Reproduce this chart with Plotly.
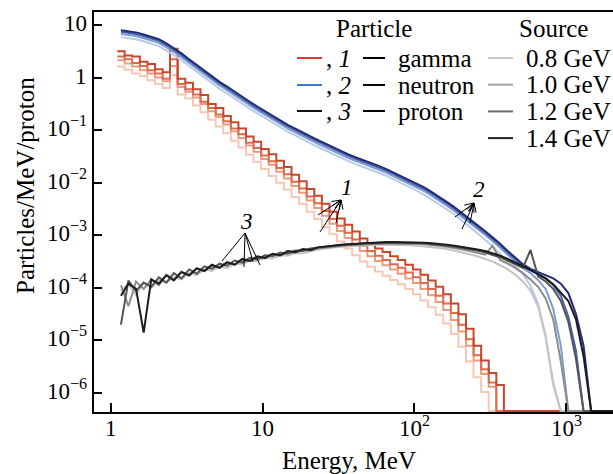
import math
import plotly.graph_objects as go

# Histogram bin edges, MeV (logarithmic binning, 20 bins per decade)
bin_edges = [1.10, 1.23, 1.38, 1.55, 1.74, 1.95, 2.19, 2.45, 2.75, 3.09,
             3.47, 3.89, 4.37, 4.90, 5.50, 6.17, 6.92, 7.76, 8.71, 9.77,
             10.96, 12.30, 13.80, 15.49, 17.38, 19.50, 21.88, 24.55, 27.54, 30.90,
             34.67, 38.90, 43.65, 48.98, 54.95, 61.66, 69.18, 77.62, 87.10, 97.72,
             109.6, 123.0, 138.0, 154.9, 173.8, 195.0, 218.8, 245.5, 275.4, 309.0,
             346.7, 389.0, 436.5, 489.8, 549.5, 616.6, 691.8, 776.2, 871.0, 977.2,
             1096, 1230, 1380, 1549, 1738, 1950, 2188]

sources = ["0.8 GeV", "1.0 GeV", "1.2 GeV", "1.4 GeV"]

# log10(particles/MeV/proton) per bin; None = empty bin
gamma_0p8 = [0.21, 0.15, 0.08, 0.03, -0.05, -0.12, -0.20, 0.05, -0.32, -0.40,
             -0.53, -0.66, -0.80, -0.93, -1.06, -1.20, -1.33, -1.47, -1.60, -1.74,
             -1.87, -2.00, -2.13, -2.27, -2.40, -2.55, -2.69, -2.84, -2.98, -3.12,
             -3.25, -3.38, -3.50, -3.60, -3.69, -3.77, -3.85, -3.93, -4.02, -4.12,
             -4.24, -4.37, -4.51, -4.68, -4.88, -5.12, -5.40, -5.70, -5.98, None,
             None, None, None, None, None, None, None, None, None, None,
             None, None, None, None, None, None]
gamma_1p0 = [0.33, 0.27, 0.21, 0.14, 0.08, 0.00, -0.07, 0.22, -0.18, -0.27,
             -0.38, -0.50, -0.64, -0.75, -0.89, -1.02, -1.15, -1.29, -1.41, -1.55,
             -1.66, -1.79, -1.92, -2.06, -2.19, -2.34, -2.48, -2.63, -2.78, -2.92,
             -3.05, -3.18, -3.30, -3.40, -3.49, -3.57, -3.65, -3.73, -3.82, -3.91,
             -4.02, -4.14, -4.27, -4.42, -4.61, -4.83, -5.10, -5.38, -5.64, -5.88,
             None, None, None, None, None, None, None, None, None, None,
             None, None, None, None, None, None]
gamma_1p2 = [0.40, 0.35, 0.28, 0.22, 0.14, 0.08, -0.02, 0.35, -0.12, -0.22,
             -0.32, -0.46, -0.58, -0.70, -0.83, -0.97, -1.08, -1.24, -1.34, -1.48,
             -1.59, -1.72, -1.84, -1.98, -2.11, -2.26, -2.39, -2.54, -2.69, -2.82,
             -2.95, -3.08, -3.20, -3.30, -3.39, -3.47, -3.55, -3.62, -3.71, -3.80,
             -3.91, -4.02, -4.15, -4.30, -4.48, -4.70, -4.98, -5.28, -5.55, -5.80,
             None, None, None, None, None, None, None, None, None, None,
             None, None, None, None, None, None]
gamma_1p4 = [0.50, 0.42, 0.40, 0.30, 0.26, 0.16, 0.10, 0.55, -0.02, -0.10,
             -0.22, -0.33, -0.50, -0.58, -0.73, -0.85, -0.97, -1.12, -1.22, -1.36,
             -1.46, -1.58, -1.70, -1.85, -1.97, -2.12, -2.25, -2.40, -2.55, -2.68,
             -2.80, -2.93, -3.06, -3.16, -3.25, -3.32, -3.40, -3.47, -3.56, -3.65,
             -3.75, -3.86, -3.98, -4.12, -4.30, -4.50, -4.78, -5.10, -5.38, -5.62,
             -5.85, None, None, None, None, None, None, None, None, None,
             None, None, None, None, None, None]

neutron_0p8 = [0.77, 0.75, 0.73, 0.69, 0.65, 0.60, 0.52, 0.43, 0.33, 0.22,
               0.11, 0.00, -0.10, -0.21, -0.30, -0.40, -0.49, -0.59, -0.68, -0.77,
               -0.85, -0.94, -1.03, -1.10, -1.18, -1.25, -1.32, -1.39, -1.46, -1.53,
               -1.59, -1.65, -1.70, -1.76, -1.81, -1.87, -1.94, -2.00, -2.07, -2.15,
               -2.23, -2.32, -2.41, -2.51, -2.61, -2.72, -2.84, -2.96, -3.08, -3.21,
               -3.35, -3.50, -3.58, -3.74, -3.96, -4.30, -4.90, -5.80, None, None,
               None, None, None, None, None, None]
neutron_1p0 = [0.83, 0.81, 0.79, 0.75, 0.71, 0.66, 0.58, 0.49, 0.39, 0.28,
               0.17, 0.06, -0.04, -0.15, -0.24, -0.34, -0.43, -0.53, -0.62, -0.71,
               -0.79, -0.88, -0.97, -1.04, -1.12, -1.19, -1.26, -1.33, -1.40, -1.47,
               -1.53, -1.59, -1.64, -1.70, -1.75, -1.81, -1.88, -1.94, -2.01, -2.08,
               -2.16, -2.25, -2.34, -2.44, -2.54, -2.65, -2.76, -2.87, -2.99, -3.11,
               -3.24, -3.38, -3.50, -3.62, -3.72, -3.85, -4.02, -4.40, -5.10, None,
               None, None, None, None, None, None]
neutron_1p2 = [0.87, 0.85, 0.83, 0.79, 0.75, 0.70, 0.62, 0.53, 0.43, 0.32,
               0.21, 0.10, 0.00, -0.11, -0.20, -0.30, -0.39, -0.49, -0.58, -0.67,
               -0.75, -0.84, -0.93, -1.00, -1.08, -1.15, -1.22, -1.29, -1.36, -1.43,
               -1.49, -1.55, -1.60, -1.66, -1.71, -1.77, -1.84, -1.90, -1.97, -2.04,
               -2.12, -2.21, -2.30, -2.40, -2.50, -2.61, -2.72, -2.83, -2.95, -3.07,
               -3.19, -3.33, -3.46, -3.58, -3.67, -3.74, -3.82, -3.95, -4.15, -4.55,
               -5.20, None, None, None, None, None]
neutron_1p4 = [0.90, 0.88, 0.86, 0.82, 0.78, 0.73, 0.65, 0.56, 0.46, 0.35,
               0.24, 0.13, 0.03, -0.08, -0.17, -0.27, -0.36, -0.46, -0.55, -0.64,
               -0.72, -0.81, -0.90, -0.97, -1.05, -1.12, -1.19, -1.26, -1.33, -1.40,
               -1.46, -1.52, -1.57, -1.63, -1.68, -1.74, -1.81, -1.87, -1.94, -2.01,
               -2.09, -2.18, -2.27, -2.37, -2.47, -2.58, -2.69, -2.80, -2.92, -3.04,
               -3.16, -3.30, -3.43, -3.55, -3.64, -3.70, -3.76, -3.82, -3.92, -4.10,
               -4.50, -5.10, None, None, None, None]

proton_0p8 = [-4.05, -3.92, -4.14, -3.90, -4.00, -3.86, -3.90, -3.80, -3.84, -3.72,
              -3.76, -3.65, -3.68, -3.59, -3.62, -3.54, -3.55, -3.48, -3.49, -3.43,
              -3.44, -3.38, -3.39, -3.34, -3.34, -3.30, -3.27, -3.25, -3.23, -3.22,
              -3.21, -3.20, -3.19, -3.18, -3.18, -3.18, -3.18, -3.18, -3.19, -3.20,
              -3.21, -3.22, -3.24, -3.26, -3.29, -3.32, -3.36, -3.40, -3.45, -3.50,
              -3.57, -3.65, -3.75, -3.88, -4.05, -4.35, -4.95, -5.85, None, None,
              None, None, None, None, None, None]
proton_1p0 = [-3.95, -4.35, -3.88, -4.02, -3.84, -3.95, -3.75, -3.84, -3.69, -3.77,
              -3.63, -3.68, -3.58, -3.61, -3.53, -3.56, -3.47, -3.49, -3.42, -3.44,
              -3.37, -3.39, -3.32, -3.33, -3.28, -3.29, -3.25, -3.23, -3.21, -3.20,
              -3.19, -3.18, -3.17, -3.16, -3.15, -3.15, -3.15, -3.15, -3.16, -3.16,
              -3.17, -3.18, -3.20, -3.22, -3.24, -3.27, -3.30, -3.33, -3.37, -3.20,
              -3.47, -3.54, -3.62, -3.72, -3.84, -3.98, -4.20, -4.60, -5.40, None,
              None, None, None, None, None, None]
proton_1p2 = [-4.70, -3.86, -4.06, -3.90, -3.98, -3.80, -3.90, -3.72, -3.82, -3.65,
              -3.73, -3.59, -3.64, -3.54, -3.58, -3.48, -3.52, -3.43, -3.46, -3.38,
              -3.40, -3.33, -3.35, -3.29, -3.30, -3.25, -3.23, -3.22, -3.20, -3.19,
              -3.17, -3.17, -3.15, -3.15, -3.14, -3.14, -3.14, -3.14, -3.14, -3.15,
              -3.15, -3.17, -3.18, -3.20, -3.22, -3.24, -3.27, -3.29, -3.33, -3.37,
              -3.42, -3.48, -3.55, -3.62, -3.28, -3.78, -3.88, -4.02, -4.25, -4.65,
              -5.35, None, None, None, None, None]
proton_1p4 = [-4.15, -3.92, -4.02, -4.85, -3.84, -3.92, -3.76, -3.86, -3.70, -3.76,
              -3.63, -3.68, -3.56, -3.62, -3.51, -3.56, -3.45, -3.49, -3.40, -3.43,
              -3.35, -3.38, -3.30, -3.32, -3.26, -3.28, -3.23, -3.21, -3.20, -3.18,
              -3.17, -3.16, -3.15, -3.14, -3.13, -3.13, -3.13, -3.13, -3.13, -3.13,
              -3.14, -3.15, -3.16, -3.18, -3.20, -3.22, -3.24, -3.27, -3.30, -3.34,
              -3.39, -3.45, -3.52, -3.58, -3.66, -3.74, -3.82, -3.93, -4.08, -4.25,
              -4.60, -5.30, None, None, None, None]

x_ticks = [1, 10, 100, 1000]
x_ticktext = ["1", "10", "10<sup>2</sup>", "10<sup>3</sup>"]
y_ticks = [10, 1, 1e-1, 1e-2, 1e-3, 1e-4, 1e-5, 1e-6]
y_ticktext = ["10", "1", "10<sup>−1</sup>", "10<sup>−2</sup>", "10<sup>−3</sup>",
              "10<sup>−4</sup>", "10<sup>−5</sup>", "10<sup>−6</sup>"]

# axis ranges (log10)
X_RANGE = [-0.112, 3.309]
Y_RANGE = [-6.362, 1.248]
# empty bins are drawn along the lower edge of the log axis
FLOOR = 10 ** -6.345

FONT = "Liberation Serif, Times New Roman, DejaVu Serif, serif"

particles = [
    ("gamma", [gamma_0p8, gamma_1p0, gamma_1p2, gamma_1p4],
     ["#f6c6b6", "#ec9a80", "#de6b4b", "#c8472c"], "steps"),
    ("neutron", [neutron_0p8, neutron_1p0, neutron_1p2, neutron_1p4],
     ["#b7cbe9", "#7e9bd1", "#4862ab", "#222d78"], "centers"),
    ("proton", [proton_0p8, proton_1p0, proton_1p2, proton_1p4],
     ["#c4c4c4", "#8c8c8c", "#555555", "#1c1c1c"], "centers"),
]

# geometric bin centres for the smoother neutron / proton spectra
bin_centers = [math.sqrt(a * b) for a, b in zip(bin_edges[:-1], bin_edges[1:])]

fig = go.Figure()
for name, series, colors, style in particles:
    for src, vals, col in zip(sources, series, colors):
        y = [10 ** v if v is not None else FLOOR for v in vals]
        if style == "steps":
            xs, ys, shape = bin_edges, y + [y[-1]], "hv"
        else:
            xs, ys, shape = bin_centers, y, "linear"
        fig.add_trace(go.Scatter(
            x=xs, y=ys, mode="lines", line_shape=shape,
            line=dict(color=col, width=2), name=f"{name} {src}",
            showlegend=False, hoverinfo="skip"))

# plot-area geometry in pixels, used to place the hand-made legend and labels
L, R, T, B = 94, 613, 12, 412


def px(x):
    return (x - L) / (R - L)


def py(y):
    return (B - y) / (B - T)


annotations = []
shapes = []


def text(x, y, s, size=25, xanchor="left", italic=False, angle=0):
    if italic:
        s = f"<i>{s}</i>"
    annotations.append(dict(x=px(x), y=py(y), xref="paper", yref="paper",
                            text=s, showarrow=False, xanchor=xanchor,
                            yanchor="middle", textangle=angle,
                            font=dict(family=FONT, size=size, color="black")))


def seg(p0, p1, color="black", width=1):
    shapes.append(dict(type="line", xref="paper", yref="paper",
                       x0=px(p0[0]), x1=px(p1[0]), y0=py(p0[1]), y1=py(p1[1]),
                       line=dict(color=color, width=width)))


def hline(x0, x1, y, color, width=2):
    seg((x0, y), (x1, y), color, width)


def pointer(head, tail, chevron=True):
    """Thin line from a curve (tail) to a label (head), open arrowhead at head."""
    seg(tail, head)
    if chevron:
        dx, dy = head[0] - tail[0], head[1] - tail[1]
        n = math.hypot(dx, dy)
        ux, uy = dx / n, dy / n
        for s in (1, -1):
            wing = (head[0] - 9 * ux + s * 4 * uy, head[1] - 9 * uy - s * 4 * ux)
            seg(head, wing)


# tick labels, placed on the axes' own scales
for v, t in zip(x_ticks, x_ticktext):
    annotations.append(dict(x=math.log10(v), xref="x", y=0, yref="paper",
                            text=t, showarrow=False, xanchor="center",
                            yanchor="bottom", yshift=-31,
                            font=dict(family=FONT, size=23, color="black")))
for v, t in zip(y_ticks, y_ticktext):
    annotations.append(dict(x=0, xref="paper", y=math.log10(v), yref="y",
                            text=t, showarrow=False, xanchor="right",
                            yanchor="bottom", xshift=-5, yshift=-13,
                            font=dict(family=FONT, size=23, color="black")))

# legend: particle column
text(374, 28, "Particle", xanchor="center")
legend_rows = [("#e03a32", "1", "gamma", 58),
               ("#3f7cc8", "2", "neutron", 85),
               ("#111111", "3", "proton", 111)]
for col, num, lab, yy in legend_rows:
    hline(297, 322, yy, col)
    text(324, yy, f", <i>{num}</i>")
    hline(363, 385, yy, "black")
    text(396, yy, lab)

# legend: source column
text(553, 28, "Source", xanchor="center")
source_colors = ["#c8c8c8", "#a2a2a2", "#6e6e6e", "#222222"]
for i, (src, col) in enumerate(zip(sources, source_colors)):
    yy = 58 + 26.7 * i
    hline(488, 513, yy, col)
    text(524, yy, src)

# curve labels with pointers
text(347, 188, "1", size=23, xanchor="center", italic=True)
for tail in [(318, 215), (320, 232), (336, 223)]:
    pointer((341, 200), tail)
text(479, 190, "2", size=23, xanchor="center", italic=True)
for tail in [(455, 217), (462, 229), (470, 223)]:
    pointer((474, 203), tail)
text(246, 221, "3", size=23, xanchor="center", italic=True)
for tail in [(222, 261), (244, 267), (253, 262), (260, 265)]:
    pointer(tail, (245, 233), chevron=False)

# axis titles
text(349, 460, "Energy, MeV", xanchor="center")
text(25, 186, "Particles/MeV/proton", size=25, xanchor="center", angle=-90)

fig.update_layout(
    width=613, height=474,
    margin=dict(l=L, r=613 - R, t=T, b=474 - B),
    paper_bgcolor="white", plot_bgcolor="white",
    font=dict(family=FONT, size=23, color="black"),
    annotations=annotations, shapes=shapes,
    xaxis=dict(type="log", range=X_RANGE, tickvals=x_ticks,
               ticks="inside", ticklen=9, tickwidth=1.5, tickcolor="black",
               showline=True, linecolor="black", linewidth=1.5, mirror=True,
               showgrid=False, zeroline=False, showticklabels=False),
    yaxis=dict(type="log", range=Y_RANGE, tickvals=y_ticks,
               ticks="inside", ticklen=8, tickwidth=1.5, tickcolor="black",
               showline=True, linecolor="black", linewidth=1.5, mirror=False,
               showgrid=False, zeroline=False, showticklabels=False),
)

fig.write_html("out.html")
